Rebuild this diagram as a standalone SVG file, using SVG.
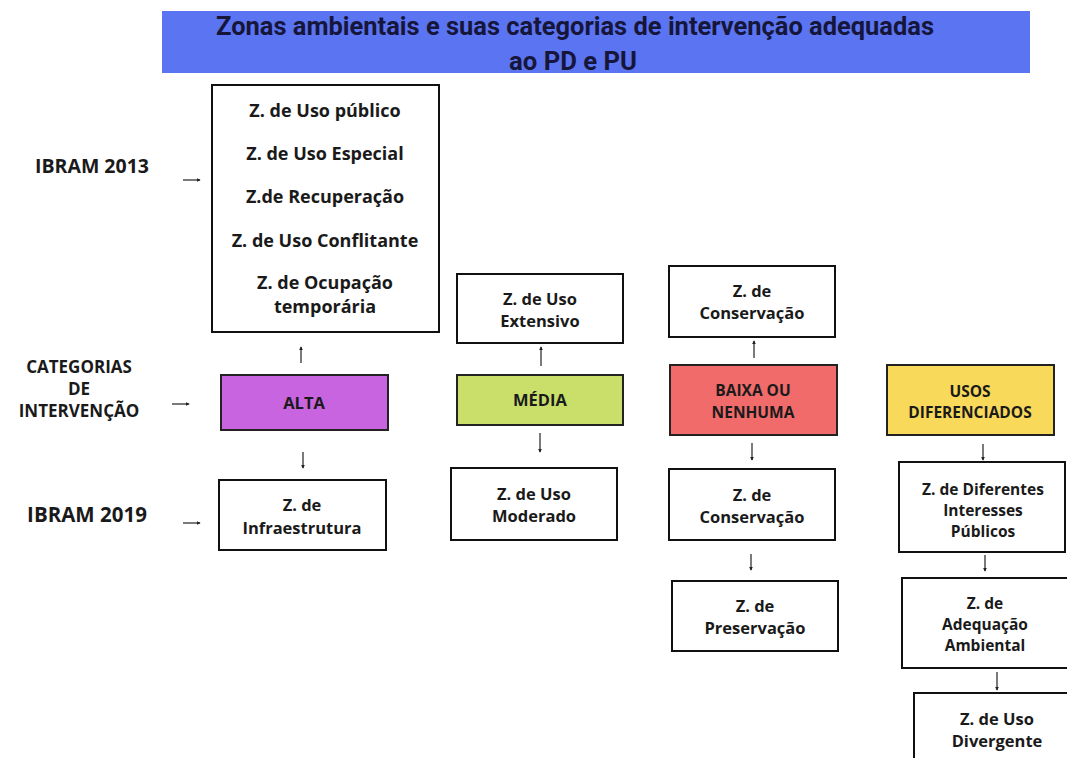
<svg xmlns="http://www.w3.org/2000/svg" width="1067" height="758" viewBox="0 0 1067 758">
<style>
.bx{fill:#fff;stroke:#111;stroke-width:2}
.t{font-family:"Open Sans","Liberation Sans",sans-serif;font-weight:bold;font-size:16.5px;fill:#1a1a1a;text-anchor:middle}
.tb{font-size:18px}
.ts{font-size:15.5px}
.lbl{font-family:"Open Sans","Liberation Sans",sans-serif;font-weight:bold;fill:#1a1a1a;text-anchor:middle}
.ttl{font-family:Roboto,"Liberation Sans",sans-serif;font-weight:bold;font-size:25px;fill:#16163a;text-anchor:middle}
.ar{stroke:#222;stroke-width:1.2;fill:none;marker-end:url(#ah)}
</style>
<defs>
<marker id="ah" viewBox="0 0 6 6" refX="5" refY="3" markerWidth="4" markerHeight="4" orient="auto" markerUnits="userSpaceOnUse">
<path d="M0,0 L6,3 L0,6 z" fill="#222"/>
</marker>
</defs>
<rect width="1067" height="758" fill="#fff"/>
<g id="title">
<rect x="162" y="11" width="868" height="62" fill="#5B74F2"/>
<text class="ttl" x="575" y="35" textLength="718" lengthAdjust="spacingAndGlyphs">Zonas ambientais e suas categorias de intervenção adequadas</text>
<text class="ttl" x="573" y="70" textLength="128" lengthAdjust="spacingAndGlyphs">ao PD e PU</text>
</g>
<g id="lbl-ibram2013"><text class="lbl" x="92" y="173" font-size="19.5">IBRAM 2013</text></g>
<g id="lbl-categorias"><text class="lbl" x="79" y="373" font-size="17">CATEGORIAS</text><text class="lbl" x="79" y="395" font-size="17">DE</text><text class="lbl" x="79" y="417" font-size="17">INTERVENÇÃO</text></g>
<g id="lbl-ibram2019"><text class="lbl" x="87" y="522" font-size="20.5">IBRAM 2019</text></g>
<g id="n-2013">
<rect class="bx" x="212" y="85" width="227" height="247"/>
<text class="t tb" x="325" y="117">Z. de Uso público</text>
<text class="t tb" x="325" y="160">Z. de Uso Especial</text>
<text class="t tb" x="325" y="203">Z.de Recuperação</text>
<text class="t tb" x="325" y="247">Z. de Uso Conflitante</text>
<text class="t tb" x="325" y="289">Z. de Ocupação</text>
<text class="t tb" x="325" y="313">temporária</text>
</g>
<g id="n-alta"><rect x="221" y="375" width="167" height="55" fill="#C964E0" stroke="#222" stroke-width="2"/><text class="t" x="304" y="409">ALTA</text></g>
<g id="n-infra"><rect class="bx" x="219" y="480" width="167" height="70"/><text class="t" x="302" y="511">Z. de</text><text class="t" x="302" y="534">Infraestrutura</text></g>
<g id="n-extensivo"><rect class="bx" x="457" y="274" width="166" height="69"/><text class="t" x="540" y="305">Z. de Uso</text><text class="t" x="540" y="327">Extensivo</text></g>
<g id="n-media"><rect x="457" y="375" width="166" height="50" fill="#C9DF6A" stroke="#222" stroke-width="2"/><text class="t" x="540" y="406">MÉDIA</text></g>
<g id="n-moderado"><rect class="bx" x="451" y="468" width="166" height="72"/><text class="t" x="534" y="500">Z. de Uso</text><text class="t" x="534" y="522">Moderado</text></g>
<g id="n-conserv1"><rect class="bx" x="669" y="266" width="166" height="71"/><text class="t" x="752" y="297">Z. de</text><text class="t" x="752" y="319">Conservação</text></g>
<g id="n-baixa"><rect x="670" y="365" width="167" height="70" fill="#F26B6B" stroke="#222" stroke-width="2"/><text class="t ts" x="753" y="396">BAIXA OU</text><text class="t ts" x="753" y="418">NENHUMA</text></g>
<g id="n-conserv2"><rect class="bx" x="669" y="469" width="166" height="71"/><text class="t" x="752" y="501">Z. de</text><text class="t" x="752" y="523">Conservação</text></g>
<g id="n-preserv"><rect class="bx" x="672" y="581" width="166" height="70"/><text class="t" x="755" y="612">Z. de</text><text class="t" x="755" y="634">Preservação</text></g>
<g id="n-usos"><rect x="887" y="365" width="167" height="70" fill="#F9D95A" stroke="#222" stroke-width="2"/><text class="t ts" x="970" y="397">USOS</text><text class="t ts" x="970" y="418">DIFERENCIADOS</text></g>
<g id="n-diferentes"><rect class="bx" x="899" y="462" width="166" height="90"/><text class="t ts" x="983" y="495">Z. de Diferentes</text><text class="t ts" x="983" y="516">Interesses</text><text class="t ts" x="983" y="537">Públicos</text></g>
<g id="n-adequacao"><rect class="bx" x="902" y="578" width="170" height="90"/><text class="t ts" x="985" y="609">Z. de</text><text class="t ts" x="985" y="630">Adequação</text><text class="t ts" x="985" y="651">Ambiental</text></g>
<g id="n-divergente"><rect class="bx" x="914" y="693" width="160" height="80"/><text class="t" x="997" y="725">Z. de Uso</text><text class="t" x="997" y="747">Divergente</text></g>
<g id="connectors">
<line class="ar" x1="183" y1="180" x2="200" y2="180"/>
<line class="ar" x1="172" y1="404" x2="189" y2="404"/>
<line class="ar" x1="183" y1="523" x2="200" y2="523"/>
<line class="ar" x1="301" y1="363" x2="301" y2="347"/>
<line class="ar" x1="303" y1="452" x2="303" y2="468"/>
<line class="ar" x1="541" y1="366" x2="541" y2="347"/>
<line class="ar" x1="540" y1="433" x2="540" y2="452"/>
<line class="ar" x1="754" y1="358" x2="754" y2="341"/>
<line class="ar" x1="752" y1="443" x2="752" y2="460"/>
<line class="ar" x1="751" y1="554" x2="751" y2="570"/>
<line class="ar" x1="983" y1="444" x2="983" y2="460"/>
<line class="ar" x1="985" y1="555" x2="985" y2="571"/>
<line class="ar" x1="997" y1="672" x2="997" y2="690"/>
</g>
</svg>
